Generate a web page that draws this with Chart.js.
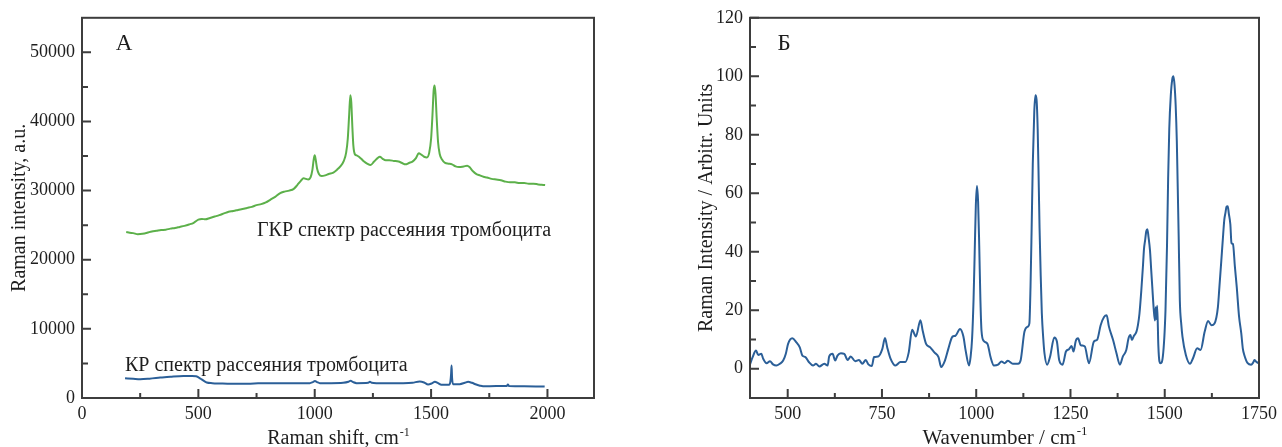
<!DOCTYPE html>
<html><head><meta charset="utf-8">
<script src="https://cdn.jsdelivr.net/npm/chart.js@4.4.0/dist/chart.umd.min.js"></script>
<style>
html,body{margin:0;padding:0;background:#fff;}
#wrap{position:relative;width:1282px;height:447px;overflow:hidden;background:#fff;}
#pa{position:absolute;left:0;top:0;width:640px;height:447px;}
#pb{position:absolute;left:640px;top:0;width:642px;height:447px;}
</style></head><body>
<div id="wrap"><div id="pa"><canvas id="ca"></canvas></div><div id="pb"><canvas id="cb"></canvas></div></div>
<script>
// ---------- Panel A data ----------
const sersShift = [190,205,220,240,260,280,300,320,340,360,380,400,420,440,460,480,500,515,530,550,570,590,610,630,650,670,690,710,730,750,770,790,810,830,850,870,890,910,925,940,952,962,972,982,990,996,1000,1004,1010,1018,1030,1045,1060,1080,1095,1110,1125,1135,1142,1148,1153,1157,1162,1166,1172,1180,1190,1200,1212,1225,1240,1255,1270,1280,1292,1305,1320,1340,1360,1375,1390,1405,1420,1435,1447,1458,1470,1482,1492,1500,1506,1511,1515,1519,1524,1530,1537,1547,1560,1575,1590,1605,1620,1640,1655,1665,1680,1695,1710,1725,1740,1760,1780,1800,1820,1840,1860,1880,1900,1920,1940,1960,1975,1990];
const sersIntensity = [24000,23900,23850,23700,23750,23900,24100,24200,24300,24350,24500,24600,24750,24900,25100,25350,25800,25900,25850,26050,26250,26450,26700,26950,27050,27200,27350,27500,27650,27900,28050,28300,28700,29100,29600,29850,30000,30250,30800,31400,31800,31700,31600,31900,33000,34600,35100,34500,33200,32400,32100,32200,32400,32600,33000,33500,34300,35500,37500,41000,43800,42800,39000,36500,35300,35100,34900,34600,34200,33900,33700,34200,34700,34900,34600,34400,34400,34300,34200,34000,33800,34000,34200,34700,35400,35200,34900,34800,35500,37500,41000,44500,45200,44000,40500,37000,35300,34500,34000,33900,33800,33500,33400,33500,33600,33400,32800,32400,32200,32000,31900,31700,31600,31500,31300,31200,31200,31100,31100,31000,31000,30900,30850,30800];
const ramanShift = [185,220,250,290,336,380,436,470,490,502,514,525,536,560,593,640,693,740,793,840,893,940,979,992,1001,1010,1022,1070,1122,1145,1154,1165,1180,1230,1237,1245,1265,1320,1380,1420,1451,1470,1487,1505,1516,1530,1544,1577,1583,1586,1588,1590,1594,1623,1645,1659,1675,1694,1710,1723,1780,1825,1830,1835,1900,1950,1988];
const ramanIntensity = [2860,2780,2720,2800,2950,3080,3190,3180,3150,2950,2700,2450,2250,2150,2100,2050,2050,2100,2150,2150,2150,2150,2150,2300,2450,2300,2150,2150,2200,2350,2500,2300,2150,2200,2350,2200,2150,2150,2150,2200,2400,2250,1950,2150,2350,2150,1900,1900,2400,3500,4700,3000,2000,2000,2200,2350,2200,1950,1780,1700,1720,1740,1950,1740,1700,1680,1650];
const aXTicks = [0,500,1000,1500,2000];
const aXMinor = [250,750,1250,1750];
const aYTicks = [0,10000,20000,30000,40000,50000];
const aYMinor = [5000,15000,25000,35000,45000];

// ---------- Panel B data ----------
const wavenumber = [400,407,416,422,430,435,444,453,461,470,479,488,495,501,512,523,532,539,547,556,567,575,584,597,606,610,619,626,632,641,650,659,667,679,689,698,707,714,723,729,740,751,758,764,773,786,799,812,821,830,840,852,858,867,878,889,900,907,917,926,937,945,957,966,972,981,985,989,993,996,999,1002,1005,1008,1011,1014,1020,1030,1038,1047,1058,1067,1075,1084,1097,1111,1118,1128,1137,1141,1144,1147,1150,1154,1157,1160,1163,1166,1168,1171,1174,1178,1181,1188,1196,1207,1214,1220,1229,1238,1246,1253,1258,1264,1270,1277,1288,1299,1312,1321,1330,1339,1346,1352,1363,1372,1381,1389,1398,1404,1409,1413,1418,1425,1429,1433,1438,1442,1445,1448,1451,1454,1457,1461,1464,1467,1471,1474,1476,1478,1480,1483,1486,1489,1495,1502,1506,1509,1512,1516,1520,1523,1526,1529,1532,1534,1537,1540,1544,1547,1556,1567,1575,1586,1595,1606,1615,1624,1632,1641,1645,1650,1655,1658,1661,1664,1667,1670,1674,1677,1681,1686,1691,1697,1703,1707,1711,1720,1729,1734,1738,1742,1746,1750];
const sersNorm = [1.5,4,6.2,4.7,5.1,3.4,1.9,2.6,1.5,1.1,1.7,2.8,5.1,8.5,10.4,9,7.3,4.5,4,2.3,1.1,1.7,0.8,1.7,1.1,4.2,5.1,2.8,4.5,5.3,5.1,3,4.2,2.6,3,1.7,3,1.5,0.9,4,4.2,6.8,10.5,7.3,3.4,1.1,2.3,2.3,5.6,13.3,11,16.6,13,8.5,7.3,5.6,4,0.6,2.8,6.8,11,11.3,13.6,11,6.2,1.1,4,10.2,24,40,56,62.5,57,42,24,13,9.5,8.5,4,1.1,1.4,2.5,1.9,2.7,1.7,1.7,3,12.7,14.4,15.5,28,48,70,88,93.5,92,82,62,48,32,19,10,5.3,1.4,4.2,10.7,9.3,3,1.4,5.9,6.7,7.8,5.9,9.5,10.4,8.1,7.6,1.9,9.3,10,14.9,17.7,18.3,14.4,9.8,5.3,1.4,4.2,6.4,10.4,11.5,9.8,11.2,12.7,15,18.9,27,34.7,41,44,47,47.7,45,40.3,34,27.9,20,16.5,21,17,21.5,8,2.5,1.9,4.2,20,42,65,82,93.4,99,100,97,90,78,65,45,23.4,15,11,4.7,1.7,3.6,7,6.4,12.7,16.3,14.9,15.5,21.1,28,36.9,46,51,53.3,55.5,55.6,53,49.4,43,42.6,35,27.9,18,12.1,7,4.7,1.9,1.4,2,3,2.5,2.1,1.8];
const bXTicks = [500,750,1000,1250,1500,1750];
const bXMinor = [625,875,1125,1375,1625];
const bYTicks = [0,20,40,60,80,100,120];
const bYMinor = [10,30,50,70,90,110];

const SERIF = "'Liberation Serif', 'Times New Roman', serif";
const TXT = '#1e1e1e';

const deco = {
  id: 'deco',
  afterDraw(chart, args, o) {
    const {ctx, chartArea: a, scales: {x, y}} = chart;
    ctx.save();
    ctx.strokeStyle = '#3d3d3d';
    ctx.lineWidth = 2;
    ctx.beginPath();
    const tk = (vals, len, axis) => vals.forEach(v => {
      if (axis === 'x') { const p = x.getPixelForValue(v); ctx.moveTo(p, a.bottom); ctx.lineTo(p, a.bottom - len); }
      else { const p = y.getPixelForValue(v); ctx.moveTo(a.left, p); ctx.lineTo(a.left + len, p); }
    });
    tk(o.xMajor, 9, 'x'); tk(o.xMinor, 5, 'x');
    tk(o.yMajor, 9, 'y'); tk(o.yMinor, 6, 'y');
    ctx.stroke();
    ctx.strokeRect(a.left, a.top, a.right - a.left, a.bottom - a.top);
    ctx.fillStyle = TXT;
    // x title with superscript
    const cx = (a.left + a.right) / 2;
    ctx.font = o.xTitleSize + 'px ' + SERIF;
    const w1 = ctx.measureText(o.xTitle[0]).width;
    ctx.font = Math.round(o.xTitleSize * 0.62) + 'px ' + SERIF;
    const w2 = ctx.measureText(o.xTitle[1]).width;
    let sx = cx - (w1 + w2) / 2;
    ctx.textBaseline = 'alphabetic'; ctx.textAlign = 'left';
    ctx.font = o.xTitleSize + 'px ' + SERIF;
    ctx.fillText(o.xTitle[0], sx, o.xTitleBase);
    ctx.font = Math.round(o.xTitleSize * 0.62) + 'px ' + SERIF;
    ctx.fillText(o.xTitle[1], sx + w1 + 1, o.xTitleBase - o.xTitleSize * 0.42);
    // y title
    ctx.save();
    ctx.translate(o.yTitleX, (a.top + a.bottom) / 2);
    ctx.rotate(-Math.PI / 2);
    ctx.font = o.yTitleSize + 'px ' + SERIF;
    ctx.textAlign = 'center'; ctx.textBaseline = 'middle';
    ctx.fillText(o.yTitle, 0, 0);
    ctx.restore();
    // panel letter and notes
    ctx.textAlign = 'center'; ctx.textBaseline = 'alphabetic';
    ctx.font = '23px ' + SERIF;
    ctx.fillText(o.letter, o.letterPos[0], o.letterPos[1]);
    ctx.textAlign = 'left';
    (o.notes || []).forEach(n => {
      ctx.font = n.size + 'px ' + SERIF;
      ctx.fillText(n.text, n.x, n.y);
    });
    ctx.restore();
  }
};

function makeChart(el, cfg) {
  return new Chart(el, {
    type: 'line',
    data: { datasets: cfg.datasets },
    options: {
      responsive: true, maintainAspectRatio: false, animation: false,
      layout: { padding: cfg.padding },
      elements: { point: { radius: 0 }, line: { borderWidth: 2, cubicInterpolationMode: 'monotone' } },
      scales: {
        x: {
          type: 'linear', min: cfg.xMin, max: cfg.xMax,
          grid: { display: false, drawTicks: false }, border: { display: false },
          afterFit: s => { s.height = cfg.xHeight; },
          afterBuildTicks: s => { s.ticks = cfg.xTicks.map(v => ({ value: v })); },
          ticks: { font: { family: SERIF, size: cfg.tickSize }, color: TXT, padding: 5, maxRotation: 0, autoSkip: false, callback: v => String(v) }
        },
        y: {
          type: 'linear', min: cfg.yMin, max: cfg.yMax,
          grid: { display: false, drawTicks: false }, border: { display: false },
          afterFit: s => { s.width = cfg.yWidth; },
          afterBuildTicks: s => { s.ticks = cfg.yTicks.map(v => ({ value: v })); },
          ticks: { font: { family: SERIF, size: cfg.tickSize }, color: TXT, padding: 7, autoSkip: false, callback: v => String(v) }
        }
      },
      plugins: { legend: { display: false }, tooltip: { enabled: false }, deco: cfg.deco }
    },
    plugins: [deco]
  });
}

const pts = (xs, ys) => xs.map((v, i) => ({ x: v, y: ys[i] }));

makeChart(document.getElementById('ca'), {
  datasets: [
    { data: pts(sersShift, sersIntensity), borderColor: '#5cb04a' },
    { data: pts(ramanShift, ramanIntensity), borderColor: '#2b5f98' }
  ],
  padding: { left: 0, right: 46, top: 15, bottom: 0 },
  xMin: 0, xMax: 2200, yMin: 0, yMax: 55000,
  xHeight: 49, yWidth: 82, tickSize: 18,
  xTicks: aXTicks, yTicks: aYTicks,
  deco: {
    xMajor: aXTicks, xMinor: aXMinor, yMajor: aYTicks, yMinor: aYMinor,
    xTitle: ['Raman shift, cm', '-1'], xTitleSize: 20, xTitleBase: 444,
    yTitle: 'Raman intensity, a.u.', yTitleSize: 20, yTitleX: 20,
    letter: 'А', letterPos: [124, 50],
    notes: [
      { text: 'ГКР спектр рассеяния тромбоцита', x: 257, y: 236, size: 20 },
      { text: 'КР спектр рассеяния тромбоцита', x: 125, y: 371, size: 20 }
    ]
  }
});

makeChart(document.getElementById('cb'), {
  datasets: [
    { data: pts(wavenumber, sersNorm), borderColor: '#2b5f98' }
  ],
  padding: { left: 0, right: 19, top: 15, bottom: 0 },
  xMin: 400, xMax: 1750, yMin: -10, yMax: 120,
  xHeight: 49, yWidth: 110, tickSize: 18,
  xTicks: bXTicks, yTicks: bYTicks,
  deco: {
    xMajor: bXTicks, xMinor: bXMinor, yMajor: bYTicks, yMinor: bYMinor,
    xTitle: ['Wavenumber / cm', '-1'], xTitleSize: 21, xTitleBase: 444,
    yTitle: 'Raman Intensity / Arbitr. Units', yTitleSize: 20, yTitleX: 67,
    letter: 'Б', letterPos: [144, 50],
    notes: []
  }
});
</script>
</body></html>
